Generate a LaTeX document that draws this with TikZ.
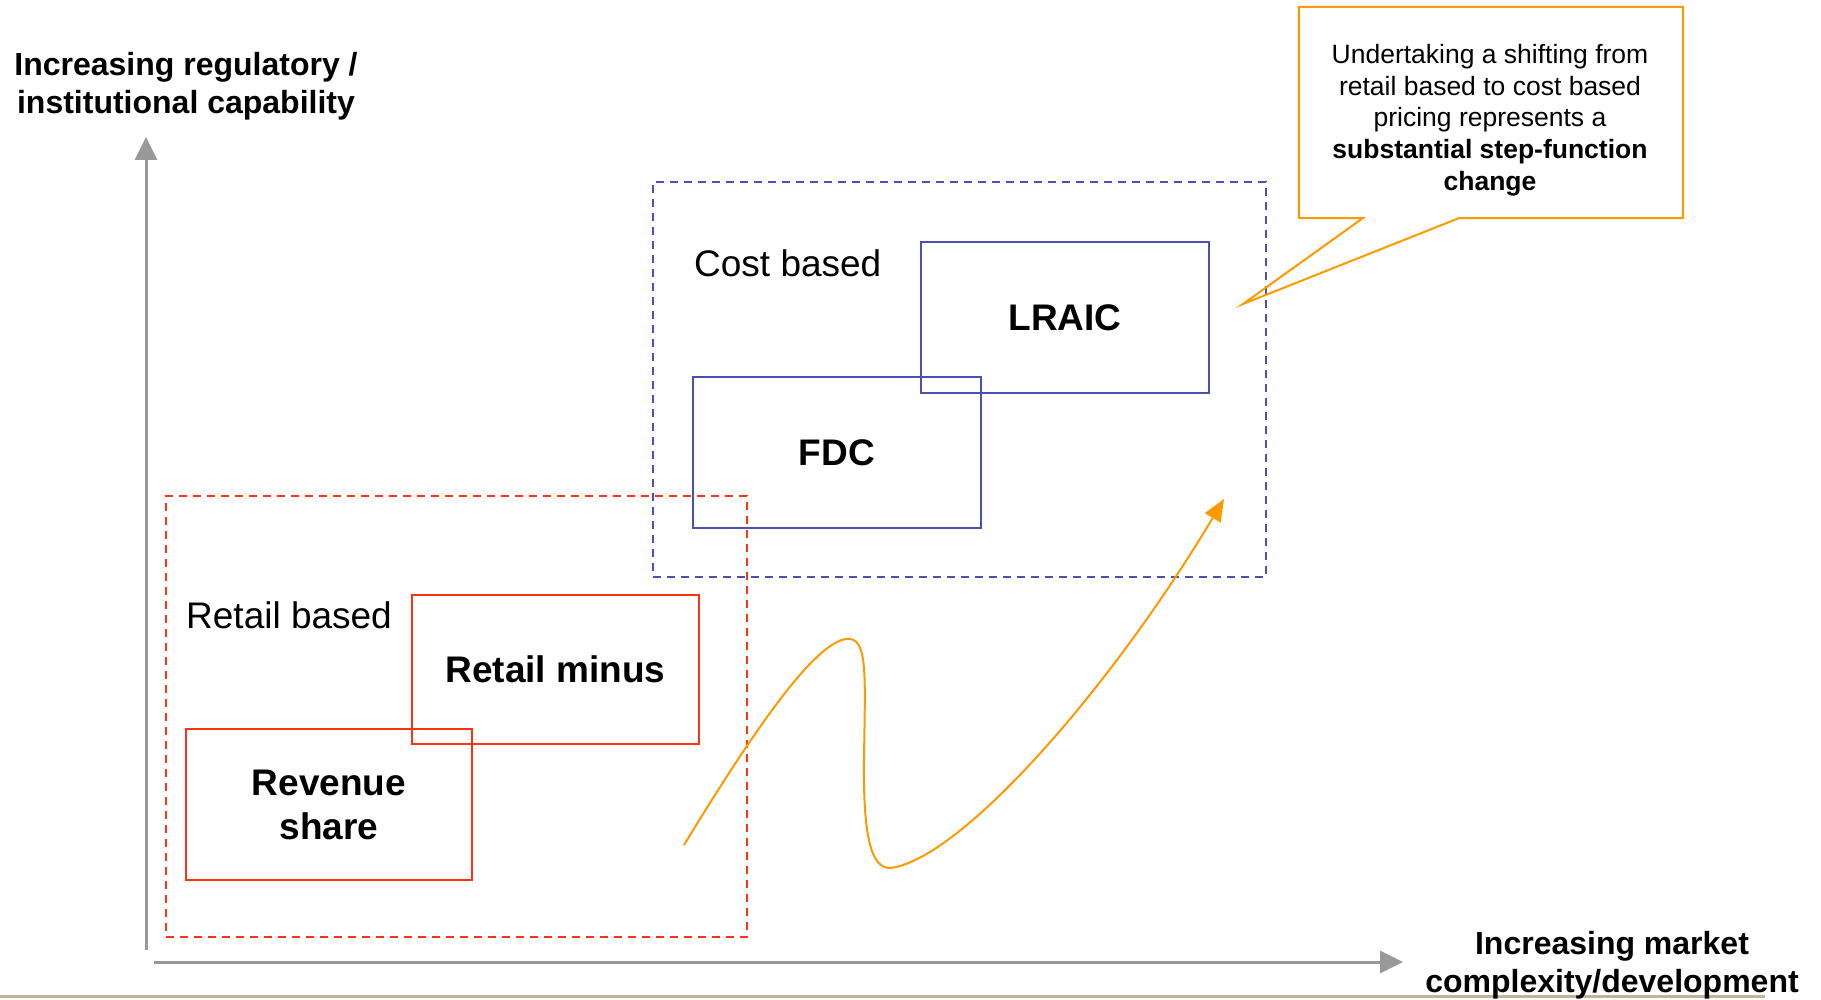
\documentclass[tikz,border=0pt]{standalone}
\usepackage{fontspec}
\setmainfont{Liberation Sans}
\usetikzlibrary{arrows.meta,calc}
\definecolor{cblue}{HTML}{4B50B4}
\definecolor{cred}{HTML}{FF3311}
\definecolor{corange}{HTML}{FF9900}
\definecolor{cgray}{HTML}{999999}
\definecolor{ctan}{HTML}{C2B397}
\begin{document}
\begin{tikzpicture}[x=1pt,y=-1pt,
  methodbox/.style={line width=2.2pt,inner sep=0pt,align=center,
    font=\fontsize{37}{44}\selectfont\bfseries},
  bluebox/.style={methodbox,draw=cblue},
  redbox/.style={methodbox,draw=cred},
  groupbox/.style={line width=2pt,dash pattern=on 8pt off 6pt,inner sep=0pt},
  grouplabel/.style={anchor=base west,inner sep=0pt,font=\fontsize{37}{44}\selectfont},
  axisline/.style={draw=cgray,line width=3pt,-{Triangle[length=23pt,width=22pt]}},
  axislabel/.style={inner sep=0pt,align=center,font=\fontsize{32}{38}\selectfont\bfseries},
  trend/.style={draw=corange,line width=2pt,-{Triangle[length=22pt,width=18pt]}},
  callouttext/.style={inner sep=0pt,align=center,font=\fontsize{26.5}{31.75}\selectfont}
]
\useasboundingbox (0,0) rectangle (1821,1000);

% bottom rule
\coordinate (ruleL) at (0,996);
\coordinate (ruleR) at (1765,996);
\draw[ctan,line width=3pt] (ruleL) -- (ruleR);

% axes
\coordinate (yb) at (146,950);
\coordinate (yt) at (146,137);
\coordinate (xl) at (154,962);
\coordinate (xr) at (1403,962);
\draw[axisline] (yb) -- (yt);
\draw[axisline] (xl) -- (xr);
\node[axislabel] (ylab) at (186,86.6) {Increasing regulatory /\\institutional capability};
\node[axislabel] (xlab) at (1612,965.5) {Increasing market\\complexity/development};

% group boxes
\node[groupbox,draw=cblue,minimum width=613pt,minimum height=395pt] (costgrp) at (959.5,379.5) {};
\node[groupbox,draw=cred,minimum width=581pt,minimum height=441pt] (retailgrp) at (456.5,716.5) {};
\node[grouplabel] (costlab) at (694,277) {Cost based};
\node[grouplabel] (retaillab) at (186,628) {Retail based};

% method boxes
\node[bluebox,minimum width=288pt,minimum height=151pt] (lraic) at (1065,317.5) {LRAIC};
\node[bluebox,minimum width=288pt,minimum height=151pt] (fdc) at (837,452.5) {FDC};
\node[redbox,minimum width=287pt,minimum height=149pt] (rminus) at (555.5,669.5) {Retail minus};
\node[redbox,minimum width=286pt,minimum height=151pt] (revshare) at (329,804.5) {Revenue\\share};

% trend curve
\coordinate (cstart) at (684,845);
\coordinate (cpeak) at (850,639);
\coordinate (cmid) at (864,760);
\coordinate (cbot) at (890,868);
\coordinate (ctip) at (1224,499);
\draw[trend] (cstart) .. controls (760,720) and (820,636) .. (cpeak)
  .. controls (868,641) and (865,680) .. (cmid)
  .. controls (863,840) and (872,868) .. (cbot)
  .. controls (960,860) and (1110,690) .. (ctip);

% callout
\node[minimum width=384pt,minimum height=211pt,inner sep=0pt] (callout) at (1491,112.5) {};
\coordinate (calltip) at (1243,304);
\draw[corange,line width=2pt,line join=miter]
  (callout.north west) -- (callout.north east) -- (callout.south east)
  -- ($(callout.south west)+(160,0)$) -- (calltip)
  -- ($(callout.south west)+(64,0)$) -- (callout.south west) -- cycle;
\node[callouttext] (calltext) at (1490,120) {Undertaking a shifting from\\retail based to cost based\\pricing represents a\\\textbf{substantial step-function}\\\textbf{change}};
\end{tikzpicture}
\end{document}
